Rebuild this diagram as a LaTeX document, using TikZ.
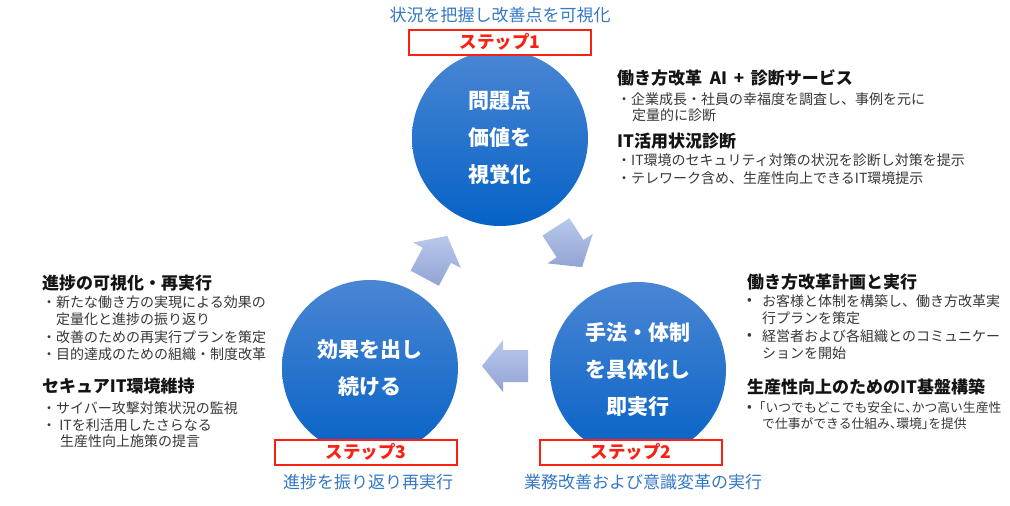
\documentclass[tikz,border=0pt]{standalone}
\usepackage{fontspec}
\setmainfont{Noto Sans CJK JP}
\definecolor{capblue}{RGB}{52,120,196}
\definecolor{stepred}{RGB}{250,32,20}
\definecolor{circtop}{RGB}{74,134,212}
\definecolor{circbot}{RGB}{6,98,198}
\definecolor{arrtop}{RGB}{184,200,236}
\definecolor{arrbot}{RGB}{146,164,212}
\definecolor{headtxt}{RGB}{20,20,20}
\definecolor{bodytxt}{RGB}{55,55,55}
\tikzset{
  stage/.style={circle, minimum size=176pt, inner sep=0pt, top color=circtop, bottom color=circbot,
    text=white, font=\fontsize{21}{37}\selectfont\bfseries, align=center},
  stepbox/.style={draw=stepred, line width=2pt, fill=white, minimum width=182pt, minimum height=25pt,
    inner sep=0pt, text=stepred, font=\fontsize{17.5}{20}\selectfont\bfseries},
  caption/.style={text=capblue, font=\fontsize{17}{20}\selectfont, inner sep=0pt},
  head/.style={anchor=west, inner sep=0pt, text=headtxt, font=\fontsize{17}{20}\selectfont\bfseries},
  body/.style={anchor=west, inner sep=0pt, text=bodytxt, font=\fontsize{14}{17}\selectfont},
  tight/.style={font=\fontsize{12.8}{17}\selectfont\addfontfeatures{RawFeature=+halt}},
  flow/.style={top color=arrtop, bottom color=arrbot, draw=none},
}
\begin{document}
\begin{tikzpicture}[x=1pt,y=-1pt]
\useasboundingbox[fill=white] (0,0) rectangle (1010,506);

% circles
\node[stage] (c1) at (500,138) {問題点\\価値を\\視覚化};
\node[stage] (c3) at (370,368) {効果を出し\\続ける};
\node[stage] (c2) at (638,370) {手法・体制\\を具体化し\\即実行};

% block arrows
\shade[flow, shift={(569,247)}, rotate=-57] (-24,-16) -- (2,-16) -- (2,-27) -- (24,0) -- (2,27) -- (2,16) -- (-24,16) -- cycle;
\shade[flow, shift={(505,366)}, rotate=180] (-23,-16) -- (2,-16) -- (2,-26) -- (23,0) -- (2,26) -- (2,16) -- (-23,16) -- cycle;
\shade[flow, shift={(436,257)}, rotate=62] (-24,-16) -- (2,-16) -- (2,-27) -- (24,0) -- (2,27) -- (2,16) -- (-24,16) -- cycle;

% step boxes
\node[stepbox] (s1) at (500,42) {ステップ1};
\node[stepbox] (s2) at (631,452) {ステップ2};
\node[stepbox] (s3) at (366,452) {ステップ3};

% captions
\node[caption] (t1) at (500,15) {状況を把握し改善点を可視化};
\node[caption] (t2) at (643,482) {業務改善および意識変革の実行};
\node[caption] (t3) at (368,482) {進捗を振り返り再実行};

% top right block
\node[head] (h1) at (617,78) {働き方改革\hspace{0.45em}AI\hspace{0.4em}+\hspace{0.4em}診断サービス};
\node[body] (h1a) at (617,99) {・企業成長・社員の幸福度を調査し、事例を元に};
\node[body] (h1b) at (632,115) {定量的に診断};
\node[head] (h2) at (617,141) {IT活用状況診断};
\node[body] (h2a) at (617,160) {・IT環境のセキュリティ対策の状況を診断し対策を提示};
\node[body] (h2b) at (617,178) {・テレワーク含め、生産性向上できるIT環境提示};

% bottom right block
\node[head] (r1) at (747,282) {働き方改革計画と実行};
\node[body] (r1d1) at (747,301) {•};
\node[body] (r1a) at (762,301) {お客様と体制を構築し、働き方改革実};
\node[body] (r1b) at (762,318) {行プランを策定};
\node[body] (r1d2) at (747,336) {•};
\node[body] (r1c) at (762,336) {経営者および各組織とのコミュニケー};
\node[body] (r1e) at (762,353) {ションを開始};
\node[head] (r2) at (747,387) {生産性向上のためのIT基盤構築};
\node[body] (r2d1) at (747,408) {•};
\node[body, tight] (r2a) at (759,408) {「いつでもどこでも安全に、かつ高い生産性};
\node[body, tight] (r2b) at (762,424) {で仕事ができる仕組み、環境」を提供};

% left block
\node[head] (l1) at (42,283) {進捗の可視化・再実行};
\node[body] (l1a) at (42,302) {・新たな働き方の実現による効果の};
\node[body] (l1b) at (56,319) {定量化と進捗の振り返り};
\node[body] (l1c) at (42,337) {・改善のための再実行プランを策定};
\node[body] (l1d) at (42,354) {・目的達成のための組織・制度改革};
\node[head] (l2) at (42,386) {セキュアIT環境維持};
\node[body] (l2a) at (42,408) {・サイバー攻撃対策状況の監視};
\node[body] (l2b) at (42,425) {・ ITを利活用したさらなる};
\node[body] (l2c) at (60,441) {生産性向上施策の提言};
\end{tikzpicture}
\end{document}
